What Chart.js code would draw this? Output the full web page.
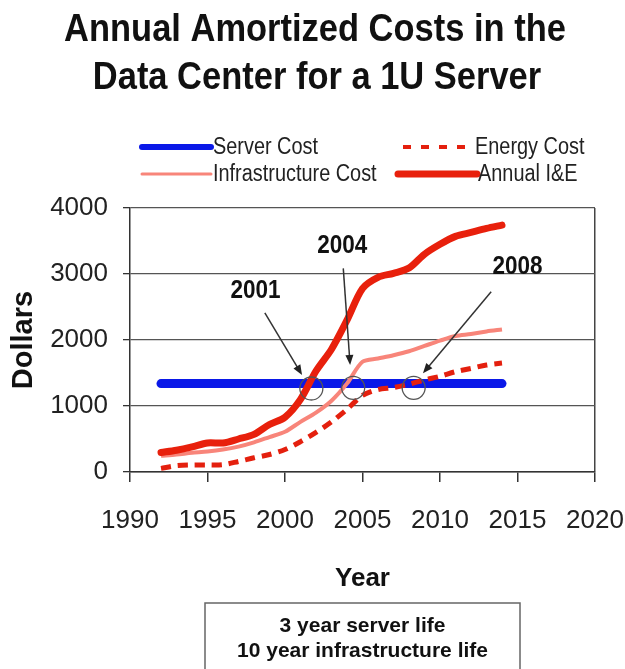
<!DOCTYPE html>
<html><head><meta charset="utf-8">
<script src="https://cdn.jsdelivr.net/npm/chart.js@4.4.1/dist/chart.umd.min.js"></script>
<style>html,body{margin:0;padding:0;background:#fff}#wrap{width:625px;height:669px;position:relative}</style>
</head><body><div id="wrap"><canvas id="c" width="625" height="669"></canvas></div>
<script>
// ---- data ----
const years       = [1992,1993,1994,1995,1996,1997,1998,1999,2000,2001,2002,2003,2004,2005,2006,2007,2008,2009,2010,2011,2012,2013,2014];
const serverCost  = [1340,1340,1340,1340,1340,1340,1340,1340,1340,1340,1340,1340,1340,1340,1340,1340,1340,1340,1340,1340,1340,1340,1340];
const infraCost   = [245,265,290,310,340,385,450,530,610,760,900,1080,1340,1670,1720,1770,1830,1910,1990,2060,2090,2130,2160];
const energyCost  = [55,95,106,106,110,160,215,265,340,460,600,760,950,1160,1250,1280,1330,1395,1450,1520,1570,1620,1650];
const annualIE    = [295,330,380,440,440,500,570,720,830,1100,1530,1860,2300,2780,2950,3010,3090,3300,3450,3570,3630,3690,3740];
const xTickLabels = [1990,1995,2000,2005,2010,2015,2020];
const yTickLabels = [0,1000,2000,3000,4000];
const crossoverLabels = ['2001','2004','2008'];
const crossoverYears  = [2001.7,2004.4,2008.3];
const titleLines = ['Annual Amortized Costs in the','Data Center for a 1U Server'];
const noteLines  = ['3 year server life','10 year infrastructure life'];

// ---- annotation placement (data coordinates) ----
const annotationPlacement = [
  {text:0, tx:1998.1, ty:2740, from:[1998.7,2410], to:[2001.1,1470], cy:1265},
  {text:1, tx:2003.7, ty:3420, from:[2003.76,3086], to:[2004.2,1621], cy:1275},
  {text:2, tx:2015.0, ty:3100, from:[2013.3,2732], to:[2008.9,1495], cy:1275}
];

const pts = arr => years.map((y,i)=>({x:y, y:arr[i]}));
const FONT = "'Liberation Sans', Arial, sans-serif";

function scaledText(ctx, text, x, y, font, sx, align, baseline){
  ctx.save();
  ctx.font = font; ctx.textAlign = align; ctx.textBaseline = baseline;
  ctx.translate(x, y); ctx.scale(sx, 1);
  ctx.fillText(text, 0, 0);
  ctx.restore();
}

const legendItems = [
  {label:'Server Cost', ds:3, x1:142, x2:211, y:147, tx:213},
  {label:'Energy Cost', ds:2, x1:403, x2:470, y:147, tx:475},
  {label:'Infrastructure Cost', ds:1, x1:142, x2:211, y:174, tx:213},
  {label:'Annual I&E', ds:0, x1:398, x2:477, y:174, tx:478}
];

const decor = {
  id:'decor',
  afterDatasetsDraw(chart){
    const ctx = chart.ctx, xs = chart.scales.x, ys = chart.scales.y;
    ctx.save();
    annotationPlacement.forEach((a,i)=>{
      const cx = xs.getPixelForValue(crossoverYears[i]), cy = ys.getPixelForValue(a.cy);
      ctx.beginPath(); ctx.arc(cx, cy, 11.5, 0, Math.PI*2);
      ctx.strokeStyle = '#555'; ctx.lineWidth = 1.3; ctx.stroke();
      const x1 = xs.getPixelForValue(a.from[0]), y1 = ys.getPixelForValue(a.from[1]);
      const x2 = xs.getPixelForValue(a.to[0]), y2 = ys.getPixelForValue(a.to[1]);
      const ang = Math.atan2(y2-y1, x2-x1), L = 10, W = 4;
      ctx.beginPath(); ctx.moveTo(x1,y1);
      ctx.lineTo(x2 - Math.cos(ang)*L*0.8, y2 - Math.sin(ang)*L*0.8);
      ctx.strokeStyle = '#333'; ctx.lineWidth = 1.5; ctx.stroke();
      ctx.beginPath(); ctx.moveTo(x2,y2);
      ctx.lineTo(x2 - Math.cos(ang)*L - Math.sin(ang)*W, y2 - Math.sin(ang)*L + Math.cos(ang)*W);
      ctx.lineTo(x2 - Math.cos(ang)*L + Math.sin(ang)*W, y2 - Math.sin(ang)*L - Math.cos(ang)*W);
      ctx.closePath(); ctx.fillStyle = '#222'; ctx.fill();
      ctx.fillStyle = '#111';
      scaledText(ctx, crossoverLabels[a.text], xs.getPixelForValue(a.tx), ys.getPixelForValue(a.ty), "bold 25px " + FONT, 0.9, 'center', 'middle');
    });
    ctx.restore();
  },
  afterDraw(chart){
    const ctx = chart.ctx;
    ctx.save();
    // title
    ctx.fillStyle = '#111';
    scaledText(ctx, titleLines[0], 315, 41, "bold 39px " + FONT, 0.884, 'center', 'alphabetic');
    scaledText(ctx, titleLines[1], 317, 89, "bold 39px " + FONT, 0.884, 'center', 'alphabetic');
    // legend
    legendItems.forEach(it=>{
      const ds = chart.data.datasets[it.ds];
      ctx.beginPath(); ctx.moveTo(it.x1, it.y); ctx.lineTo(it.x2, it.y);
      ctx.strokeStyle = ds.borderColor; ctx.lineWidth = ds.legendWidth;
      ctx.lineCap = ds.borderDash ? 'butt' : 'round';
      ctx.setLineDash(ds.borderDash ? [8,10] : []);
      ctx.stroke(); ctx.setLineDash([]);
      ctx.fillStyle = '#222';
      scaledText(ctx, it.label, it.tx, it.y + 1, "23px " + FONT, 0.865, 'left', 'middle');
    });
    // note box
    ctx.strokeStyle = '#666'; ctx.lineWidth = 1.5;
    ctx.strokeRect(205, 603, 315, 80);
    ctx.font = "bold 21px " + FONT; ctx.fillStyle = '#111';
    ctx.textAlign = 'center'; ctx.textBaseline = 'alphabetic';
    ctx.fillText(noteLines[0], 362.5, 632);
    ctx.fillText(noteLines[1], 362.5, 657);
    ctx.restore();
  }
};

new Chart(document.getElementById('c'), {
  type:'line',
  data:{ datasets:[
    {label:'Annual I&E', data:pts(annualIE), borderColor:'#e8200c', borderWidth:7, legendWidth:7, borderCapStyle:'round', borderJoinStyle:'round', pointRadius:0, tension:0.3, fill:false},
    {label:'Infrastructure Cost', data:pts(infraCost), borderColor:'#f8857a', borderWidth:4, legendWidth:3, pointRadius:0, tension:0.3, fill:false},
    {label:'Energy Cost', data:pts(energyCost), borderColor:'#e4200e', borderWidth:5, legendWidth:4, borderDash:[10,7], pointRadius:0, tension:0.3, fill:false},
    {label:'Server Cost', data:pts(serverCost), borderColor:'#0a18e8', borderWidth:9, legendWidth:6, borderCapStyle:'round', pointRadius:0, tension:0, fill:false}
  ]},
  options:{
    responsive:false, animation:false, devicePixelRatio:1,
    layout:{padding:{left:0, right:30, top:208, bottom:66}},
    plugins:{ legend:{display:false}, tooltip:{enabled:false}, title:{display:false} },
    scales:{
      x:{type:'linear', min:1990, max:2020,
        afterBuildTicks(s){ s.ticks = xTickLabels.map(v=>({value:v})); },
        afterFit(s){ s.height = 131; s.paddingLeft = 0; s.paddingRight = 0; },
        ticks:{callback:v=>String(v), color:'#222', font:{family:FONT, size:26}, padding:23, maxRotation:0, autoSkip:false},
        grid:{drawOnChartArea:true, color:c=> (c.tick && c.tick.value===2020) ? '#444' : 'rgba(0,0,0,0)', lineWidth:1.5, tickLength:10, tickColor:'#333', drawTicks:true},
        border:{display:true, color:'#333', width:1.5},
        title:{display:true, text:'Year', color:'#111', font:{family:FONT, weight:'bold', size:26}, padding:{top:0, bottom:9}}
      },
      y:{min:0, max:4000,
        afterBuildTicks(s){ s.ticks = yTickLabels.map(v=>({value:v})); },
        afterFit(s){ s.width = 130; s.paddingTop = 0; s.paddingBottom = 0; },
        ticks:{callback:v=>String(v), color:'#222', font:{family:FONT, size:26}, padding:15},
        grid:{color:'#555', lineWidth:1.3, tickLength:7, tickColor:'#333'},
        border:{display:true, color:'#333', width:1.5},
        title:{display:true, text:'Dollars', color:'#111', font:{family:FONT, weight:'bold', size:29}, padding:{top:7, bottom:0}}
      }
    }
  },
  plugins:[decor]
});
</script></body></html>
